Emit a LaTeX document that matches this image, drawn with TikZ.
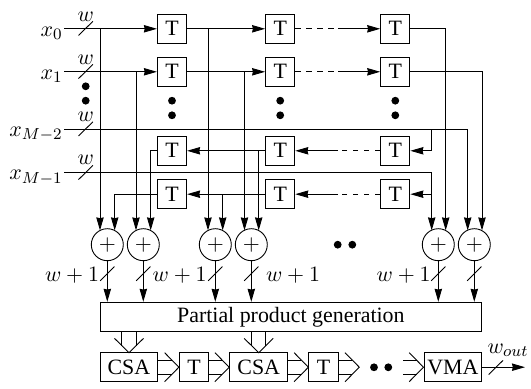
\documentclass[tikz,border=0pt,11pt]{standalone}
\usepackage[no-math]{fontspec}
\setmainfont{Liberation Serif}
\usetikzlibrary{arrows.meta,calc}
\tikzset{
  wire/.style={line width=0.45pt},
  arr/.style={wire,-{Stealth[length=6.5pt,width=3.7pt,inset=0.4pt]}},
  dashwire/.style={wire,dash pattern=on 2.85pt off 2.65pt},
  tbox/.style={draw,line width=0.5pt,minimum width=14.6pt,minimum height=14.6pt,inner sep=0pt},
  addr/.style={draw,line width=0.45pt,circle,minimum size=16pt,inner sep=0pt},
  blob/.style={circle,fill=black,minimum size=3.9pt,inner sep=0pt},
  lab/.style={inner sep=0pt}
}
\newcommand\busmark[2]{\draw[wire] ($(#1,#2)+(-7.2,7.1)$) -- ($(#1,#2)+(7.2,-7.1)$);}
\newcommand\hfat[2]{%
  \draw[wire] ($(#1)+(0,-7.2)$) -- ($(#2)+(-7,-7.2)$);
  \draw[wire] ($(#1)+(0,7.2)$) -- ($(#2)+(-7,7.2)$);
  \draw[wire] ($(#2)+(-14.3,-14.5)$) -- (#2) -- ($(#2)+(-14.3,14.5)$);}
\newcommand\vfat[1]{%
  \draw[wire] ($(#1 |- pp.south)+(-7.2,0)$) -- ($(#1)+(-7.2,-7)$);
  \draw[wire] ($(#1 |- pp.south)+(7.2,0)$) -- ($(#1)+(7.2,-7)$);
  \draw[wire] ($(#1)+(-14.5,-14.3)$) -- (#1) -- ($(#1)+(14.5,-14.3)$);}
\begin{document}
\begin{tikzpicture}[x=0.5pt,y=-0.5pt]
\useasboundingbox (0,0) rectangle (531,389);
% T boxes
\foreach \r/\y in {1/28.8,2/71.8,3/150.8,4/194.2}{
  \foreach \c/\x in {1/172,2/280.2,3/395.3}{
    \node[tbox] (t\r\c) at (\x,\y) {T};
  }
}
% adders
\foreach \n/\x in {1/107.3,2/143.3,3/215.3,4/251.3,5/438.3,6/474.3}{
  \node[addr] (a\n) at (\x,244.7) {$+$};
}
\foreach \n/\l/\r in {1/100/114.7,2/136/150.7,3/208/222.7,4/244.5/258.7,5/431.7/445.7,6/467.7/482}{
  \coordinate (a\n l) at (\l,230.4);
  \coordinate (a\n r) at (\r,230.4);
}
% big boxes
\node[draw,line width=0.5pt,minimum width=190.85pt,minimum height=14.5pt,inner sep=0pt] (pp) at (290.85,316.8) {Partial product generation};
\node[tbox,minimum width=28.85pt] (csa1) at (128.85,367.2) {CSA};
\node[tbox] (tb1) at (194,367.2) {T};
\node[tbox,minimum width=29pt] (csa2) at (258.7,367.2) {CSA};
\node[tbox] (tb2) at (323.5,367.2) {T};
\node[tbox,minimum width=28.85pt] (vma) at (452.85,367.2) {VMA};
% input labels
\node[lab,anchor=base east] (l0) at (63,36.2) {$x_0$};
\node[lab,anchor=base east] (l1) at (63,79.2) {$x_1$};
\node[lab,anchor=base east] (l2) at (63,136.6) {$x_{M-2}$};
\node[lab,anchor=base east] (l3) at (63,180) {$x_{M-1}$};
\foreach \y in {17,60,117,160}{
  \node[lab] at (85.7,\y) {$w$};
}
\coordinate (in0) at (64,28.8);
\coordinate (in1) at (64,71.8);
\coordinate (in2) at (64,129.3);
\coordinate (in3) at (64,172.7);
% forward rows
\draw[arr] (in0) -- (t11.west);
\draw[arr] (in1) -- (t21.west);
\draw[arr] (t11.east) -- (t12.west);
\draw[arr] (t21.east) -- (t22.west);
\coordinate (m1) at (338,28.8);
\coordinate (m2) at (338,71.8);
\coordinate (m3) at (338,150.8);
\coordinate (m4) at (338,194.2);
\draw[dashwire] (t12.east) -- (m1);
\draw[arr] (m1) -- (t13.west);
\draw[dashwire] (t22.east) -- (m2);
\draw[arr] (m2) -- (t23.west);
% backward rows
\draw[dashwire] (t33.west) -- (m3);
\draw[arr] (m3) -- (t32.east);
\draw[dashwire] (t43.west) -- (m4);
\draw[arr] (m4) -- (t42.east);
\draw[arr] (t32.west) -- (t31.east);
\draw[arr] (t42.west) -- (t41.east);
% long input wires
\draw[arr] (in2) -- (a6l |- in2) -- (a6l);
\draw[arr] (in3) -- (a5l |- in3) -- (a5l);
\draw[arr] (a5l |- in2) -- (a5l |- t33.east) -- (t33.east);
\draw[arr] (a5l |- t43.east) -- (t43.east);
% taps to adders
\draw[arr] (a1l |- in0) -- (a1l);
\draw[arr] (a2l |- in1) -- (a2l);
\draw[arr] (t41.west) -| (a1r);
\draw[arr] (t31.west) -| (a2r);
\draw[arr] (a3l |- t11.east) -- (a3l);
\draw[arr] (a4l |- t21.east) -- (a4l);
\draw[arr] (a3r |- t42.west) -- (a3r);
\draw[arr] (a4r |- t32.west) -- (a4r);
\draw[arr] (t13.east) -| (a5r);
\draw[arr] (t23.east) -| (a6r);
% input bus marks
\busmark{85.7}{28.4}
\busmark{85.7}{71.5}
\busmark{85.7}{128.9}
\busmark{85.7}{172.5}
% dots
\foreach \x/\ya/\yb in {85.7/86.3/100.7,172/100.7/115.3,280.2/100.7/115.3,395.3/100.7/115.3}{
  \node[blob] at (\x,\ya) {};
  \node[blob] at (\x,\yb) {};
}
\node[blob] at (337.7,244.7) {};
\node[blob] at (352.3,244.7) {};
\node[blob] at (374,367.3) {};
\node[blob] at (388.3,367.3) {};
% adder outputs
\foreach \n in {1,...,6}{
  \draw[arr] (a\n.south) -- (a\n.south |- pp.north);
}
\foreach \x in {107.3,143.3,215.3,251.3,438.3,474.3}{
  \busmark{\x}{273.7}
}
\foreach \x in {72,179.7,293,403.7}{
  \node[lab] at (\x,275) {$w+1$};
}
% lower fat arrows
\coordinate (f1) at (129,352.7);
\coordinate (f2) at (258.7,352.7);
\vfat{f1}
\vfat{f2}
\hfat{csa1.east}{tb1.west}
\hfat{tb1.east}{csa2.west}
\hfat{csa2.east}{tb2.west}
\coordinate (o1) at (359.3,367.2);
\coordinate (o2) at (403.3,367.2);
\hfat{tb2.east}{o1}
\hfat{o2}{vma.west}
% output
\coordinate (out) at (525,367.2);
\draw[arr] (vma.east) -- (out);
\busmark{495.8}{367.5}
\node[lab] (wo) at (508,350) {$w_{out}$};
\end{tikzpicture}
\end{document}
